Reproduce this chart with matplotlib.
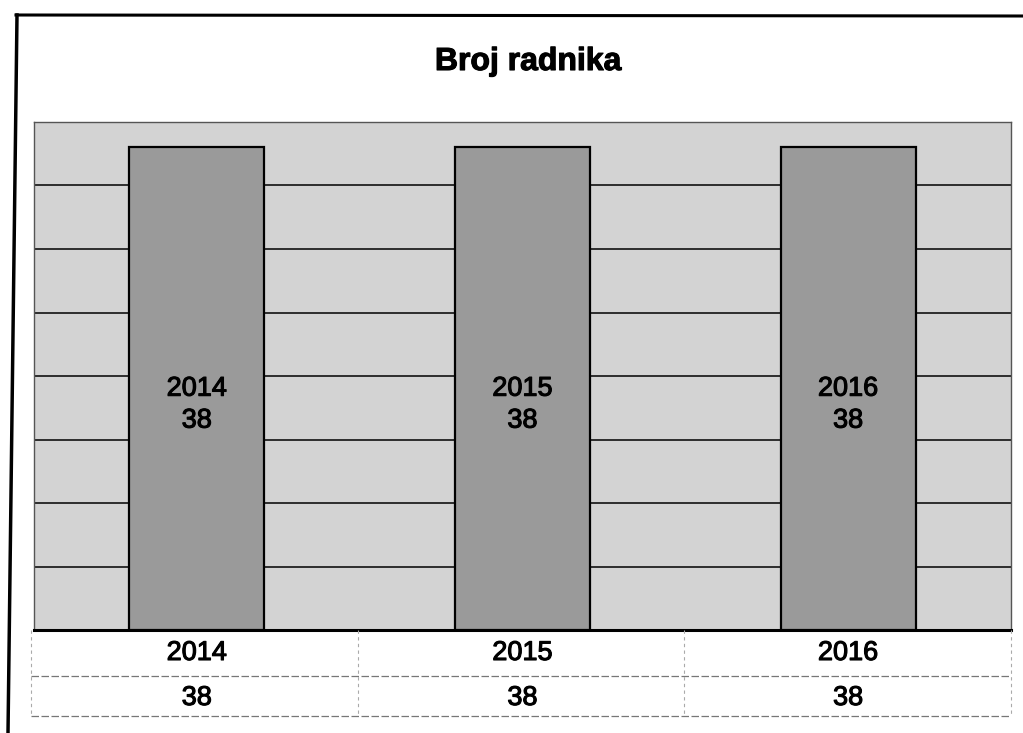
import matplotlib
matplotlib.use("Agg")
import matplotlib.pyplot as plt
import matplotlib.patheffects as pe
from matplotlib.lines import Line2D
from matplotlib.transforms import blended_transform_factory

plt.rcParams['font.family'] = ['Liberation Sans', 'DejaVu Sans']

# data
years = ["2014", "2015", "2016"]
workers = [38, 38, 38]
title = "Broj radnika"

W, H = 1023, 733
fig = plt.figure(figsize=(W / 100, H / 100), dpi=100)

def fx(px):
    return px / W

def fy(py):
    return 1 - py / H

thick = [pe.withStroke(linewidth=0.8, foreground="black")]

# plot area
ax = fig.add_axes([fx(34), fy(630), fx(1011) - fx(34), fy(122) - fy(630)])
ax.set_facecolor("#d3d3d3")
x = list(range(len(years)))
bars = ax.bar(x, workers, width=0.415, color="#9a9a9a", edgecolor="black",
              linewidth=1.6, zorder=3)
ax.set_xlim(-0.5, len(years) - 0.5)
ax.set_ylim(0, 40)
ax.set_yticks(range(0, 41, 5))
ax.yaxis.grid(True, color="black", linewidth=1.1, zorder=1)
ax.set_xticks([])
ax.tick_params(left=False, labelleft=False)
for s in ["left", "right", "top"]:
    ax.spines[s].set_color("#555555")
    ax.spines[s].set_linewidth(1.0)
ax.spines["bottom"].set_color("black")
ax.spines["bottom"].set_linewidth(2.2)

# labels inside bars
for xi, yr, v in zip(x, years, workers):
    ax.annotate(yr, (xi, v / 2), xytext=(0, 0), textcoords="offset points",
                ha="center", va="center", fontsize=19.5, zorder=4, path_effects=thick)
    ax.annotate(str(v), (xi, v / 2), xytext=(0, -23), textcoords="offset points",
                ha="center", va="center", fontsize=19.5, zorder=4, path_effects=thick)

# title
fig.text(fx(528), fy(62), title, ha="center", va="center",
         fontsize=23, fontweight="bold", path_effects=thick)

# data table under the plot
tb = blended_transform_factory(ax.transData, fig.transFigure)
for xi, yr, v in zip(x, years, workers):
    fig.text(xi, fy(653), yr, transform=tb, ha="center", va="center",
             fontsize=19.5, path_effects=thick)
    fig.text(xi, fy(698), str(v), transform=tb, ha="center", va="center",
             fontsize=19.5, path_effects=thick)

for yy in [676, 716]:
    fig.add_artist(Line2D([fx(31), fx(1011)], [fy(yy), fy(yy)], color="#777777",
                          linewidth=0.9, linestyle=(0, (6, 2))))
for xx in [31, 358, 684, 1011]:
    fig.add_artist(Line2D([fx(xx), fx(xx)], [fy(630), fy(716)], color="#aaaaaa",
                          linewidth=0.8, linestyle=(0, (3, 3))))

# outer frame (top and left visible)
fig.add_artist(Line2D([fx(16), fx(1023)], [fy(15), fy(16)], color="black", linewidth=2.2))
fig.add_artist(Line2D([fx(17), fx(8)], [fy(15), fy(733)], color="black", linewidth=2.5))

fig.savefig("out.png", dpi=100)
